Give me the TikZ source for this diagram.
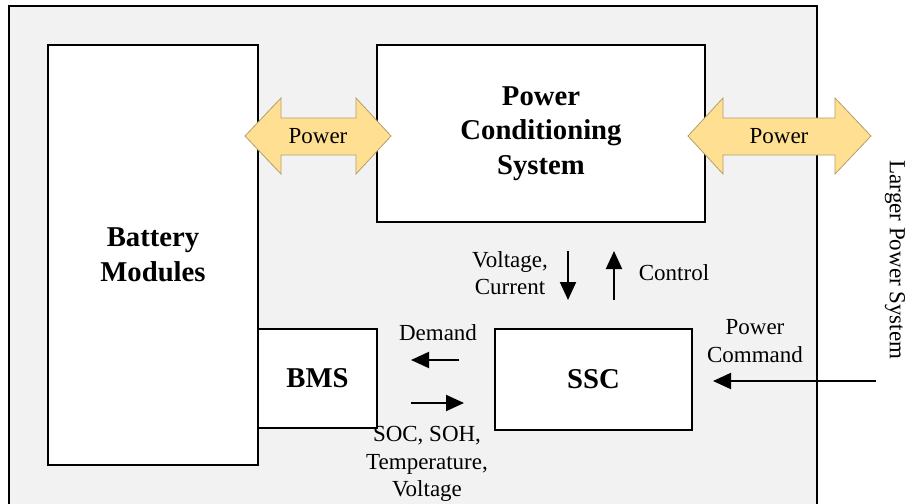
\documentclass[tikz,border=0pt]{standalone}
\usepackage{fontspec}
\setmainfont{Liberation Serif}
\usetikzlibrary{arrows.meta}

\definecolor{panelgray}{RGB}{242,242,242}
\definecolor{pwrfill}{RGB}{255,224,146}
\definecolor{pwrline}{RGB}{180,158,105}

\tikzset{
  blk/.style={draw, line width=2pt, fill=white, align=center, inner sep=0pt,
    font=\fontsize{28.7}{34.5}\selectfont\bfseries},
  lbl/.style={font=\fontsize{23}{27.5}\selectfont, align=center, inner sep=0pt},
  sig/.style={line width=2pt, -{Triangle[length=18pt,width=16pt]}},
  pwr/.style={draw=pwrline, fill=pwrfill, line width=0.8pt},
}

\begin{document}
\begin{tikzpicture}[x=1pt, y=-1pt]
  \useasboundingbox (0,0) rectangle (909,503);
  \clip (0,0) rectangle (909,503);
  % storage system panel (runs off the bottom)
  \draw[fill=panelgray, line width=1.8pt] (9,6) rectangle (817,530);

  % blocks
  \node[blk, minimum width=210, minimum height=420] (bat) at (153,255) {Battery\\Modules};
  \node[blk, minimum width=328, minimum height=177] (pcs) at (541,133.5) {Power\\Conditioning\\System};
  \node[blk, minimum width=119, minimum height=99] (bms) at (317.5,378.5) {BMS};
  \node[blk, minimum width=197, minimum height=101] (ssc) at (593.5,379.5) {SSC};

  % power flow arrows
  \filldraw[pwr] (245,136) -- (281,98) -- (281,118) -- (356,118) -- (356,98) -- (391,136)
    -- (356,174) -- (356,155) -- (281,155) -- (281,174) -- cycle;
  \node[lbl] (pwrA) at (318,136) {Power};
  \filldraw[pwr] (688,136) -- (723,98) -- (723,118) -- (835,118) -- (835,98) -- (871,136)
    -- (835,174) -- (835,155) -- (723,155) -- (723,174) -- cycle;
  \node[lbl] (pwrB) at (779,136) {Power};

  % outside world
  \node[lbl, rotate=-90] (grid) at (895,260) {Larger Power System};
  \coordinate (gridIn) at (876,381);

  % signals between blocks
  \coordinate (vc) at (568,0);
  \coordinate (ctl) at (614,0);
  \draw[sig, shorten <=28pt, shorten >=28pt] (vc |- pcs.south) -- (vc |- ssc.north);
  \draw[sig, shorten <=28pt, shorten >=28pt] (ctl |- ssc.north) -- (ctl |- pcs.south);
  \node[lbl] (vcTxt) at (510,273) {Voltage,\\Current};
  \node[lbl] (ctlTxt) at (674,273) {Control};

  \draw[sig, shorten <=35pt, shorten >=33pt] ([yshift=19.5pt]ssc.west) -- ([yshift=18.5pt]bms.east);
  \draw[sig, shorten <=33pt, shorten >=30pt] ([yshift=-24.5pt]bms.east) -- ([yshift=-23.5pt]ssc.west);
  \node[lbl] (dmdTxt) at (438,333) {Demand};
  \node[lbl] (socTxt) at (427,464) {SOC, SOH,\\Temperature,\\Voltage};

  \draw[sig, shorten >=20pt] (gridIn) -- (ssc.east |- gridIn);
  \node[lbl] (cmdTxt) at (755,341) {Power\\Command};
\end{tikzpicture}
\end{document}
